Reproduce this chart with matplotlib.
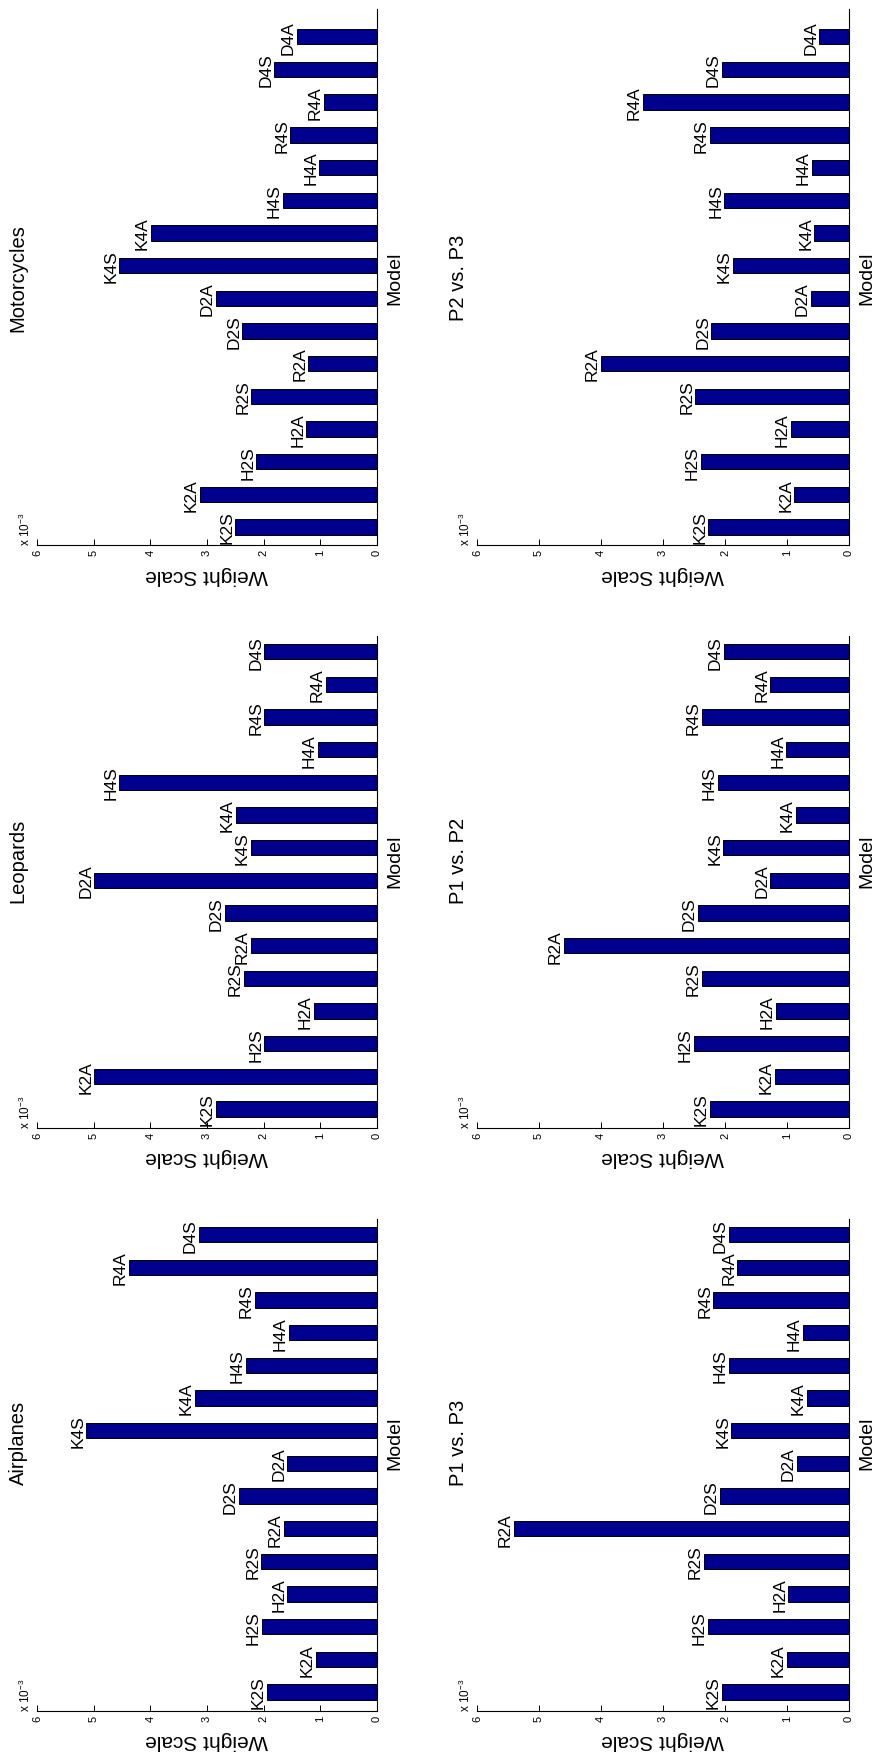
import matplotlib.pyplot as plt

# bar names, in plotting order (bottom to top)
models = ['K2S', 'K2A', 'H2S', 'H2A', 'R2S', 'R2A', 'D2S', 'D2A',
          'K4S', 'K4A', 'H4S', 'H4A', 'R4S', 'R4A', 'D4S', 'D4A']

# weights per model, x 10^-3
airplanes = [1.94, 1.08, 2.03, 1.58, 2.04, 1.64, 2.44, 1.58,
             5.13, 3.22, 2.32, 1.56, 2.16, 4.38, 3.14]
leopards = [2.85, 4.99, 1.99, 1.12, 2.35, 2.23, 2.69, 4.99,
            2.23, 2.49, 4.55, 1.04, 1.99, 0.90, 1.99]
motorcycles = [2.50, 3.13, 2.13, 1.25, 2.22, 1.21, 2.38, 2.85,
               4.55, 3.99, 1.66, 1.02, 1.53, 0.94, 1.81, 1.42]
p1_p3 = [2.05, 1.00, 2.28, 0.98, 2.34, 5.41, 2.08, 0.84,
         1.90, 0.68, 1.94, 0.75, 2.19, 1.80, 1.94]
p1_p2 = [2.25, 1.20, 2.50, 1.18, 2.37, 4.60, 2.44, 1.27,
         2.03, 0.86, 2.12, 1.01, 2.37, 1.27, 2.02]
p2_p3 = [2.27, 0.88, 2.39, 0.94, 2.48, 4.00, 2.22, 0.62,
         1.87, 0.56, 2.01, 0.60, 2.24, 3.33, 2.05, 0.48]

panels = [
    ('Motorcycles', motorcycles, 'left', 'top'),
    ('P2 vs. P3', p2_p3, 'right', 'top'),
    ('Leopards', leopards, 'left', 'mid'),
    ('P1 vs. P2', p1_p2, 'right', 'mid'),
    ('Airplanes', airplanes, 'left', 'bot'),
    ('P1 vs. P3', p1_p3, 'right', 'bot'),
]

plt.rcParams['font.family'] = ['Liberation Sans', 'DejaVu Sans']
plt.rcParams['mathtext.default'] = 'regular'

W, H = 875, 1756
fig = plt.figure(figsize=(W / 100, H / 100), dpi=100)

# page is laid out sideways: columns in pixels (x0, x1), rows (y0, y1, ylim lo, ylim hi, label shift)
cols = {'left': (37, 377), 'right': (477, 849)}
rows = {'top': (10, 546, 0.45, 16.85, 0),
        'mid': (637, 1129, 0.42, 15.48, 22),
        'bot': (1220, 1712, 0.42, 15.48, 23)}

for title, vals, col, row in panels:
    x0, x1 = cols[col]
    y0, y1, lo, hi, shift = rows[row]
    ax = fig.add_axes([x0 / W, 1 - y1 / H, (x1 - x0) / W, (y1 - y0) / H])

    pos = range(1, len(vals) + 1)
    ax.barh(pos, vals, height=0.47, color='#00008f', edgecolor='black', linewidth=0.7)
    ax.set_xlim(6, 0)
    ax.set_ylim(lo, hi)

    for p, v, name in zip(pos, vals, models):
        ax.annotate(name, xy=(v, p), xytext=(-1, 0), textcoords='offset pixels',
                    rotation=90, ha='right', va='center', fontsize=12.5)

    for side in ['left', 'top']:
        ax.spines[side].set_visible(False)
    for side in ['right', 'bottom']:
        ax.spines[side].set_linewidth(0.8)
    ax.set_yticks([])
    ax.set_xticks(range(7))
    ax.tick_params(axis='x', direction='in', length=4, width=0.7,
                   labelsize=8, labelrotation=90, pad=3)

    ax.annotate(title, xy=(0, 0.5), xycoords='axes fraction', xytext=(-19, shift),
                textcoords='offset pixels', rotation=90, ha='center', va='center',
                fontsize=14.5)
    ax.annotate('Model', xy=(1, 0.5), xycoords='axes fraction', xytext=(18, shift),
                textcoords='offset pixels', rotation=90, ha='center', va='center',
                fontsize=14)
    ax.annotate('Weight Scale', xy=(0.5, 0), xycoords='axes fraction', xytext=(0, -29),
                textcoords='offset pixels', rotation=180, ha='center', va='center',
                fontsize=15)
    ax.annotate(r'x 10$^{-3}$', xy=(0, 0), xycoords='axes fraction', xytext=(-4, 0),
                textcoords='offset pixels', rotation=90, ha='right', va='bottom',
                fontsize=8.5)

fig.savefig('out.png', dpi=100)
